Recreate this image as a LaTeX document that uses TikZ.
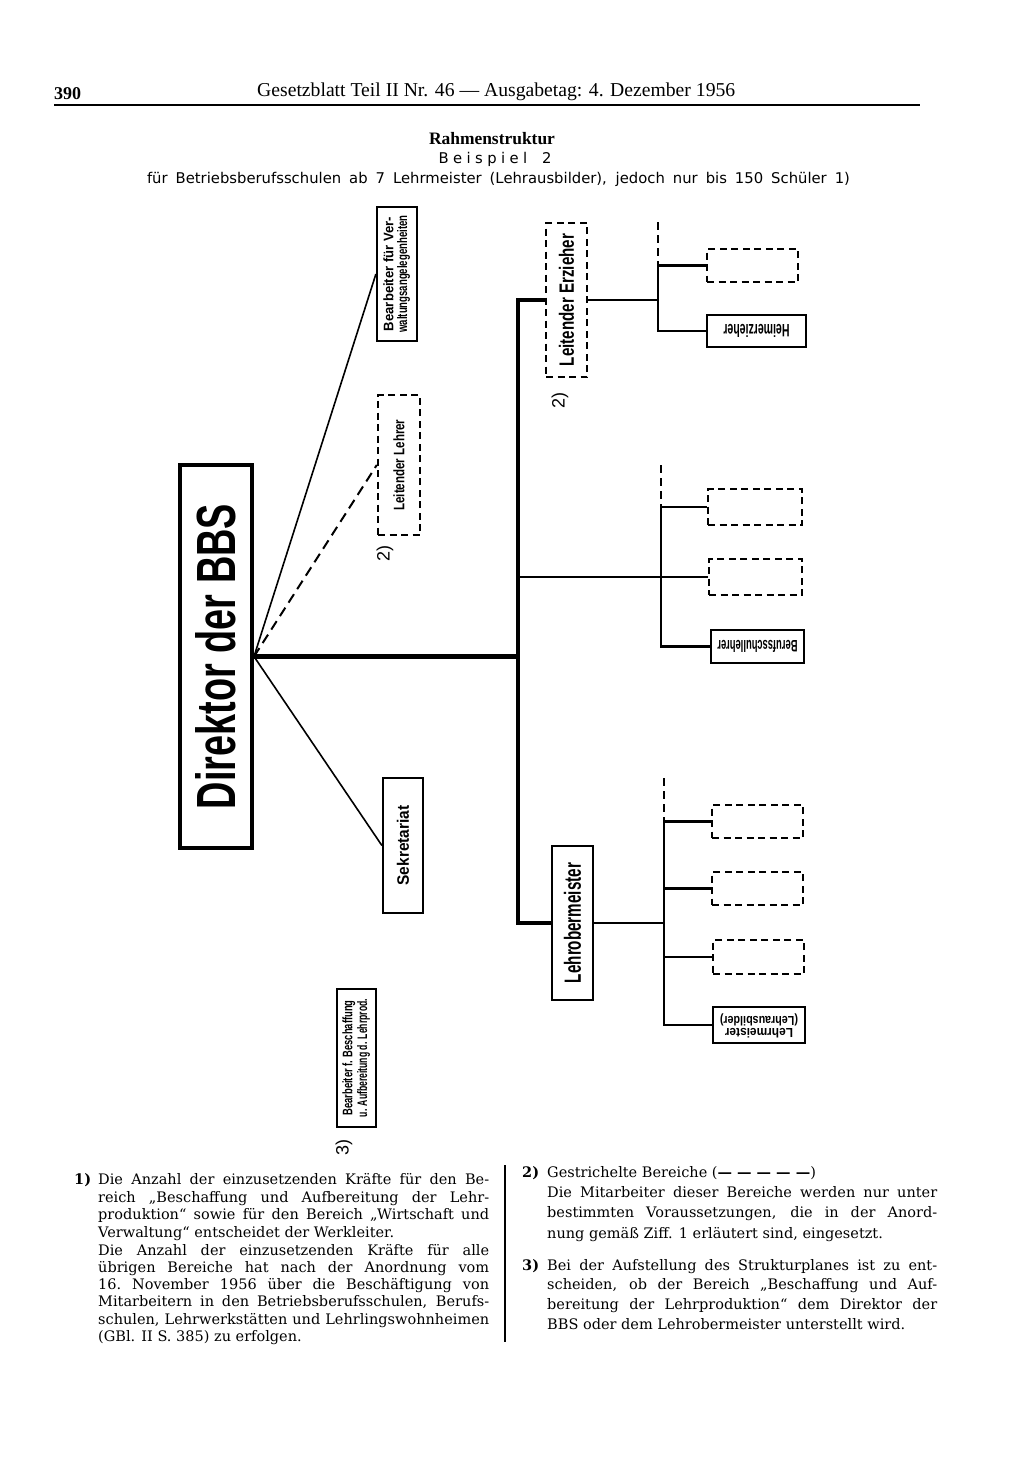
\documentclass[tikz,border=0pt]{standalone}
\usepackage{fontspec}
\usepackage{graphicx}
\setmainfont{Liberation Serif}
\newfontfamily\footfont{DejaVu Serif}
\newfontfamily\lblfont{Liberation Sans}
\newfontfamily\subfont{DejaVu Sans}
\newcommand{\fitlbl}[3]{\resizebox{#1pt}{#2pt}{\lblfont\bfseries #3}}
\newcommand{\fitlblb}[3]{\resizebox{#1pt}{#2pt}{\lblfont\bfseries #3}}
\newcommand{\jline}[1]{\makebox[391pt][s]{#1}}
\newcommand{\jlineR}[1]{\makebox[390pt][s]{#1}}
\newcommand{\lsp}{\hspace{3pt}}
\tikzset{
 sbox/.style={draw, line width=2.2pt, inner sep=0pt},
 dbox/.style={draw, line width=2.4pt, dash pattern=on 7pt off 4.5pt, inner sep=0pt},
 trunk/.style={line width=4.5pt},
 branch/.style={line width=2.8pt},
 thinline/.style={line width=1.6pt},
 dashline/.style={line width=2pt, dash pattern=on 10pt off 6pt},
 stub/.style={line width=2pt, dash pattern=on 8pt off 5pt},
 txt/.style={anchor=base west, inner sep=0pt},
 fn/.style={anchor=base west, inner sep=0pt, font=\footfont\fontsize{14.5}{17}\selectfont},
 notemark/.style={inner sep=0pt},
}
\begin{document}
\begin{tikzpicture}[x=1pt,y=-1pt]
\fill[white] (0,0) rectangle (1024,1459);
\useasboundingbox (0,0) rectangle (1024,1459);

% header
\node[txt, font=\fontsize{18}{20}\selectfont\bfseries] (pg) at (54,99) {390};
\node[txt] (hd) at (257,96) {\resizebox{478pt}{!}{\fontsize{18}{20}\selectfont Gesetzblatt Teil II Nr. 46 — Ausgabetag: 4. Dezember 1956}};
\coordinate (ruleA) at (54,105);
\coordinate (ruleB) at (920,105);
\draw[line width=2pt] (ruleA) -- (ruleB);

\node[anchor=base, inner sep=0pt] (rs) at (492,144) {\resizebox{126pt}{!}{\bfseries Rahmenstruktur}};
\node[anchor=base, inner sep=0pt] (bsp) at (495,163) {\resizebox{113pt}{!}{\subfont B\lsp e\lsp i\lsp s\lsp p\lsp i\lsp e\lsp l\hspace{10pt}2}};
\node[anchor=base, inner sep=0pt, font=\subfont\fontsize{14.8}{17}\selectfont] (sub) at (498.5,183) {\makebox[703pt][s]{für Betriebsberufsschulen ab 7 Lehrmeister (Lehrausbilder), jedoch nur bis 150 Schüler 1)}};

% boxes
\node[sbox, line width=4pt, minimum width=72pt, minimum height=383pt] (dir) at (216,656.5) {\rotatebox{90}{\fitlblb{305}{40}{Direktor der BBS}}};
\node[sbox, minimum width=40pt, minimum height=134pt] (bv) at (397,274) {\rotatebox{90}{\begin{tabular}{@{}c@{}}\fitlbl{114}{10}{Bearbeiter für Ver-}\\[0pt]\fitlbl{117}{10}{waltungsangelegenheiten}\end{tabular}}};
\node[dbox, minimum width=42pt, minimum height=140pt] (ll) at (399,465) {\rotatebox{90}{\fitlbl{91}{11}{Leitender Lehrer}}};
\node[sbox, minimum width=40pt, minimum height=135pt] (sek) at (403,845.5) {\rotatebox{90}{\fitlbl{80}{12}{Sekretariat}}};
\node[dbox, line width=2.8pt, minimum width=41pt, minimum height=154pt] (le) at (566.5,300) {\rotatebox{90}{\fitlblb{132}{15}{Leitender Erzieher}}};
\node[sbox, line width=2.8pt, minimum width=41pt, minimum height=154pt] (lob) at (572.5,923) {\rotatebox{90}{\fitlblb{120}{17}{Lehrobermeister}}};
\node[sbox, minimum width=39pt, minimum height=138pt] (bb) at (356.5,1058) {\rotatebox{90}{\begin{tabular}{@{}c@{}}\fitlbl{115}{10}{Bearbeiter f. Beschaffung}\\[1pt]\fitlbl{118}{10}{u. Aufbereitung d. Lehrprod.}\end{tabular}}};

\node[dbox, minimum width=91pt, minimum height=33pt] (t1) at (752.5,265.5) {};
\node[sbox, minimum width=99pt, minimum height=32pt] (t2) at (756.5,331) {\rotatebox{180}{\fitlbl{66}{13}{Heimerzieher}}};
\node[dbox, minimum width=94pt, minimum height=36pt] (m1) at (755,507) {};
\node[dbox, minimum width=93pt, minimum height=36pt] (m2) at (755.5,577) {};
\node[sbox, minimum width=93pt, minimum height=33pt] (m3) at (757.5,646.5) {\rotatebox{180}{\fitlblb{80}{12}{Berufsschullehrer}}};
\node[dbox, minimum width=91pt, minimum height=33pt] (b1) at (757.5,821.5) {};
\node[dbox, minimum width=91pt, minimum height=33pt] (b2) at (757.5,888.5) {};
\node[dbox, minimum width=91pt, minimum height=34pt] (b3) at (758.5,957) {};
\node[sbox, minimum width=92pt, minimum height=36pt] (b4) at (759,1025) {\rotatebox{180}{\begin{tabular}{@{}c@{}}\fitlbl{68}{9.5}{Lehrmeister}\\[-1pt]\fitlbl{78}{9.5}{(Lehrausbilder)}\end{tabular}}};

% note marks
\node[notemark] (n2a) at (385,553) {\rotatebox{90}{\resizebox{16pt}{13pt}{\lblfont 2)}}};
\node[notemark] (n2b) at (560,400) {\rotatebox{90}{\resizebox{16pt}{13pt}{\lblfont 2)}}};
\node[notemark] (n3a) at (344,1147) {\rotatebox{90}{\resizebox{16pt}{13pt}{\lblfont 3)}}};

% connectors
\coordinate (jh) at (518,656.5);
\draw[thinline] (dir.east) -- (bv.west);
\draw[dashline] (dir.east) -- (ll.west);
\draw[thinline] (dir.east) -- (sek.west);
\draw[trunk] (dir.east) -- (jh);
\draw[trunk] (le.west) -- (le.west -| jh) -- (lob.west -| jh) -- (lob.west);
\draw[branch] (jh |- m2.west) -- (m2.west);

\coordinate (s1) at (658,222);
\draw[stub] (s1) -- (s1 |- t1.west);
\draw[branch] (le.east) -- (le.east -| s1);
\draw[branch] (t1.west) -- (t1.west -| s1) -- (t2.west -| s1) -- (t2.west);

\coordinate (s2) at (661,465);
\draw[stub] (s2) -- (s2 |- m1.west);
\draw[branch] (m1.west) -- (m1.west -| s2) -- (m3.west -| s2) -- (m3.west);

\coordinate (s3) at (664,778);
\draw[stub] (s3) -- (s3 |- b1.west);
\draw[branch] (lob.east) -- (lob.east -| s3);
\draw[branch] (b1.west) -- (b1.west -| s3) -- (b4.west -| s3) -- (b4.west);
\draw[branch] (b2.west -| s3) -- (b2.west);
\draw[branch] (b3.west -| s3) -- (b3.west);

% footnotes left
\node[fn] (n1) at (74,1184) {\bfseries 1)};
\node[fn] (l1) at (98,1184) {\jline{Die Anzahl der einzusetzenden Kräfte für den Be-}};
\node[fn] (l2) at (98,1202) {\jline{reich „Beschaffung und Aufbereitung der Lehr-}};
\node[fn] (l3) at (98,1219.5) {\jline{produktion“ sowie für den Bereich „Wirtschaft und}};
\node[fn] (l4) at (98,1237) {Verwaltung“ entscheidet der Werkleiter.};
\node[fn] (l5) at (98,1255) {\jline{Die Anzahl der einzusetzenden Kräfte für alle}};
\node[fn] (l6) at (98,1272) {\jline{übrigen Bereiche hat nach der Anordnung vom}};
\node[fn] (l7) at (98,1289) {\jline{16.\ November 1956 über die Beschäftigung von}};
\node[fn] (l8) at (98,1306) {\jline{Mitarbeitern in den Betriebsberufsschulen, Berufs-}};
\node[fn] (l9) at (98,1324) {\jline{schulen, Lehrwerkstätten und Lehrlingswohnheimen}};
\node[fn] (l10) at (98,1341) {(GBl. II S. 385) zu erfolgen.};

% separator
\coordinate (sepA) at (505,1165);
\coordinate (sepB) at (505,1342);
\draw[line width=1.5pt] (sepA) -- (sepB);

% footnotes right
\node[fn] (n2) at (522,1177) {\bfseries 2)};
\node[fn] (r1) at (547,1177) {Gestrichelte Bereiche ({\bfseries — — — — —})};
\node[fn] (r2) at (547,1197) {\jlineR{Die Mitarbeiter dieser Bereiche werden nur unter}};
\node[fn] (r3) at (547,1217) {\jlineR{bestimmten Voraussetzungen, die in der Anord-}};
\node[fn] (r4) at (547,1238) {nung gemäß Ziff. 1 erläutert sind, eingesetzt.};
\node[fn] (n3) at (522,1270) {\bfseries 3)};
\node[fn] (r5) at (547,1270) {\jlineR{Bei der Aufstellung des Strukturplanes ist zu ent-}};
\node[fn] (r6) at (547,1289.5) {\jlineR{scheiden, ob der Bereich „Beschaffung und Auf-}};
\node[fn] (r7) at (547,1309.5) {\jlineR{bereitung der Lehrproduktion“ dem Direktor der}};
\node[fn] (r8) at (547,1329.5) {BBS oder dem Lehrobermeister unterstellt wird.};
\end{tikzpicture}
\end{document}
